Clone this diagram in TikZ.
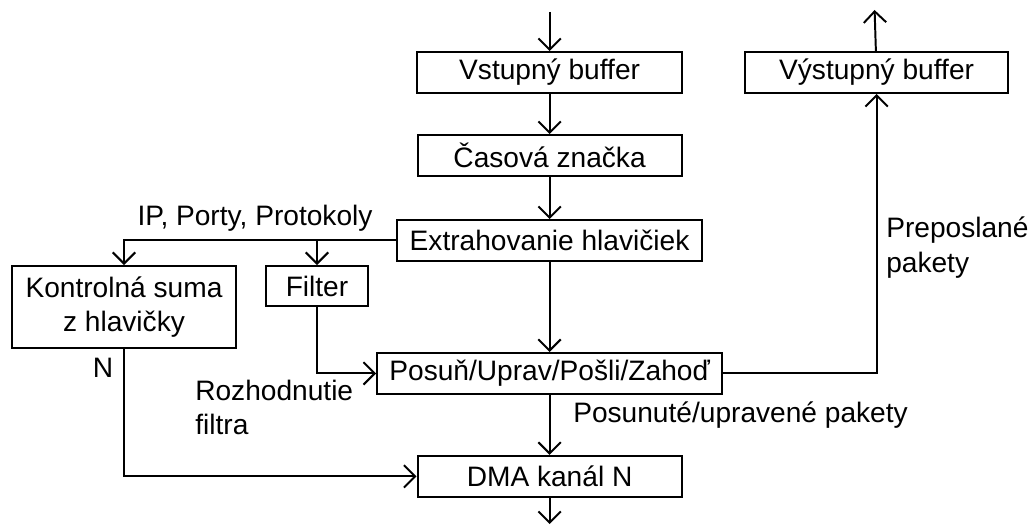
\documentclass[tikz,border=0pt]{standalone}
\usepackage{fontspec}
\setmainfont{Liberation Sans}
\usetikzlibrary{arrows.meta,positioning}

\begin{document}
\begin{tikzpicture}[
  flowbox/.style={
    draw,
    line width=1.4pt,
    minimum height=1.025cm,
    inner sep=2pt,
    align=center,
    font=\fontsize{20}{24.2}\selectfont
  },
  note/.style={inner sep=0pt,align=left,font=\fontsize{20}{24.2}\selectfont},
  arrow/.style={-{Straight Barb[length=0.28cm,width=0.56cm,line width=1.4pt]},line width=1.4pt}
]
  \useasboundingbox (0,0) rectangle (25.8,-13.175);
  % main column
  \node[flowbox,minimum width=6.625cm] (vstup) at (13.74,-1.8125) {Vstupný buffer};
  \node[flowbox,minimum width=6.6cm,below=1cm of vstup] (casova) {Časová značka};
  \node[flowbox,minimum width=7.625cm,below=1.05cm of casova] (extrah) {Extrahovanie hlavičiek};
  \node[flowbox,minimum width=8.625cm,below=2.25cm of extrah] (posun) {Posuň/Uprav/Pošli/Zahoď};
  \node[flowbox,minimum width=6.6cm,below=1.5cm of posun] (dma) {DMA kanál N};
  \node[flowbox,minimum width=6.575cm,right=1.525cm of vstup] (vystup) {Výstupný buffer};
  % side boxes
  \node[flowbox,minimum width=5.6cm,minimum height=2.05cm] (kontrola) at (3.1,-7.675) {Kontrolná suma\\z hlavičky};
  \node[flowbox,minimum width=2.55cm,minimum height=1cm] (filter) at (7.925,-7.15) {Filter};
  \coordinate (vstart) at (13.74,-0.3);
  \coordinate (dmaout) at (13.74,-13.1);
  \coordinate (vyout) at (21.865,-0.25);
  % labels
  \node[note,anchor=base] (iplbl) at (6.375,-5.65) {IP, Porty, Protokoly};
  \node[note] (nlbl) at (2.575,-9.2) {N};
  \node[note,anchor=north west] (rozhlbl) at (4.875,-9.5) {Rozhodnutie\\filtra};
  \node[note,anchor=base west] (posunlbl) at (14.325,-10.575) {Posunuté/upravené pakety};
  \node[note,anchor=north west] (preplbl) at (22.15,-5.425) {Preposlané\\pakety};
  % connectors
  \draw[arrow] (vstart) -- (vstup);
  \draw[arrow] (vstup) -- (casova);
  \draw[arrow] (casova) -- (extrah);
  \draw[arrow] (extrah) -- (posun);
  \draw[arrow] (posun) -- (dma);
  \draw[arrow] (dma) -- (dmaout);
  \draw[arrow] (extrah.west) -| (kontrola.north);
  \draw[arrow] (filter.north |- extrah.west) -- (filter.north);
  \draw[arrow] (filter.south) |- (posun.west);
  \draw[arrow] (kontrola.south) |- (dma.west);
  \draw[arrow] (posun.east) -| (vystup.south);
  \draw[arrow] (vystup) -- (vyout);
\end{tikzpicture}
\end{document}
